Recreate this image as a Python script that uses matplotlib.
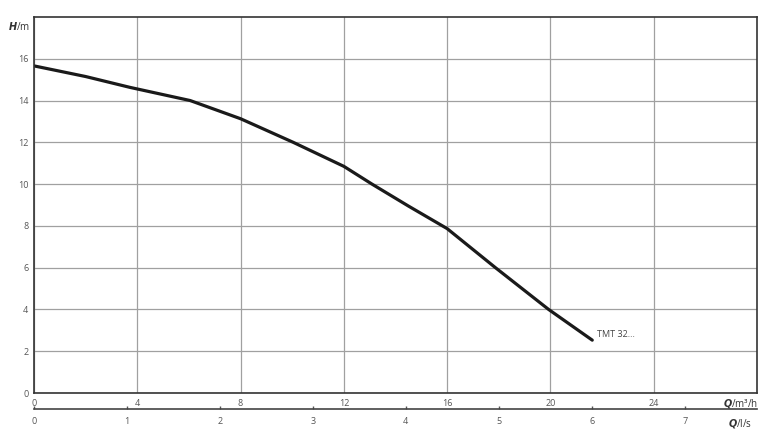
import matplotlib.pyplot as plt

plt.rcParams['font.family'] = ['Open Sans', 'DejaVu Sans']

# pump curve
q_m3h = [0, 2, 3.72, 6.05, 8, 10.04, 12, 13.09, 14.5, 16, 17.87, 19.93, 21.62]
h_m = [15.66, 15.15, 14.63, 14.0, 13.13, 12.0, 10.85, 10.0, 8.95, 7.87, 6.0, 4.0, 2.53]
curve_label = 'TMT 32...'

x_ticks = [0, 4, 8, 12, 16, 20, 24]
y_ticks = [0, 2, 4, 6, 8, 10, 12, 14, 16]
ls_ticks = [0, 1, 2, 3, 4, 5, 6, 7]

fig = plt.figure(figsize=(7.81, 4.36), dpi=100)
ax = fig.add_axes([34 / 781, 43 / 436, 723 / 781, 376 / 436])

ax.plot(q_m3h, h_m, color='#1a1a1a', lw=2.3, solid_capstyle='round',
        solid_joinstyle='round')
ax.text(q_m3h[-1] + 0.2, h_m[-1] + 0.05, curve_label, fontsize=6.5,
        color='#444444', va='bottom', ha='left')

ax.set_xlim(0, 28)
ax.set_ylim(0, 18)
ax.set_xticks(x_ticks)
ax.set_yticks(y_ticks)
ax.grid(True, color='#a0a0a0', lw=0.9)
ax.tick_params(length=0, labelsize=6.5, colors='#555555', pad=4)
for s in ax.spines.values():
    s.set_color('#333333')
    s.set_linewidth(1.2)

# second axis in l/s
sec = ax.secondary_xaxis(-16 / 376, functions=(lambda x: x / 3.6, lambda x: x * 3.6))
sec.set_xticks(ls_ticks)
sec.tick_params(direction='in', length=2, width=1, labelsize=6.5,
                colors='#555555', pad=6)
sec.spines['bottom'].set_color('#444444')
sec.spines['bottom'].set_linewidth(1.2)

fig.text(30 / 781, 1 - 27 / 436, r'$\boldsymbol{H}$/m', fontsize=7, color='#333333',
         ha='right', va='center')
fig.text(758 / 781, 1 - 403 / 436, r'$\boldsymbol{Q}$/m³/h', fontsize=7, color='#333333',
         ha='right', va='center')
fig.text(752 / 781, 1 - 423 / 436, r'$\boldsymbol{Q}$/l/s', fontsize=7, color='#333333',
         ha='right', va='center')

plt.savefig('out.png', dpi=100)
